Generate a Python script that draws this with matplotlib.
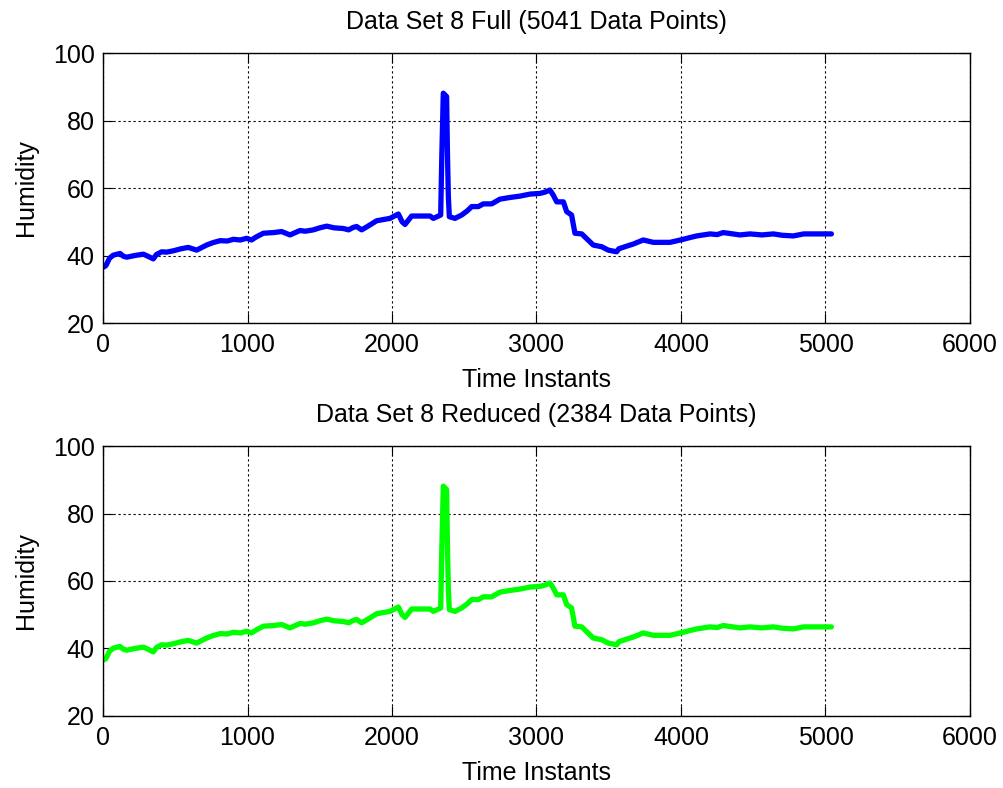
import matplotlib
matplotlib.use("Agg")
import matplotlib.pyplot as plt

plt.rcParams['font.family'] = ['Liberation Sans', 'DejaVu Sans']

# Humidity trace (time instant, humidity)
time_full = [0, 20, 45, 71, 118, 140, 164, 220, 250, 279, 300, 348, 370, 406, 440, 487,
             540, 590, 648, 717, 760, 810, 860, 902, 950, 994, 1028, 1060, 1110, 1180,
             1236, 1294, 1363, 1400, 1456, 1500, 1548, 1600, 1663, 1700, 1730, 1755,
             1790, 1830, 1894, 1986, 2044, 2070, 2090, 2136, 2194, 2263, 2286, 2337,
             2345, 2355, 2378, 2384, 2390, 2397, 2436, 2482, 2520, 2552, 2598, 2632,
             2690, 2747, 2817, 2886, 2955, 3024, 3060, 3093, 3116, 3140, 3186, 3209,
             3243, 3266, 3313, 3393, 3451, 3497, 3555, 3570, 3612, 3670, 3739, 3809,
             3924, 4016, 4060, 4109, 4201, 4250, 4293, 4408, 4478, 4560, 4639, 4700,
             4777, 4850, 5041]
humidity_full = [36.5, 37.0, 39.2, 40.1, 40.6, 39.8, 39.5, 40.0, 40.2, 40.4, 40.0, 39.0,
                 40.3, 41.1, 41.0, 41.4, 42.0, 42.4, 41.6, 43.1, 43.8, 44.4, 44.3, 44.8,
                 44.6, 45.1, 44.6, 45.5, 46.6, 46.8, 47.1, 46.1, 47.4, 47.2, 47.6, 48.2,
                 48.7, 48.2, 48.0, 47.6, 48.3, 48.6, 47.6, 48.6, 50.3, 51.0, 52.3, 50.0,
                 49.2, 51.7, 51.7, 51.7, 51.0, 52.0, 70.0, 88.1, 87.1, 70.0, 57.4, 51.5,
                 51.0, 52.0, 53.2, 54.5, 54.5, 55.3, 55.3, 56.7, 57.2, 57.6, 58.2, 58.4,
                 58.8, 59.4, 57.9, 55.9, 55.9, 53.0, 52.0, 46.6, 46.4, 43.1, 42.6, 41.6,
                 41.1, 42.0, 42.6, 43.4, 44.6, 43.9, 43.9, 44.8, 45.3, 45.8, 46.4, 46.2,
                 46.8, 46.1, 46.4, 46.1, 46.4, 46.0, 45.8, 46.4, 46.4]

# reduced set follows the same shape
time_reduced = list(time_full)
humidity_reduced = list(humidity_full)

titles = ['Data Set 8 Full (5041 Data Points)', 'Data Set 8 Reduced (2384 Data Points)']
colors = ['#0000ff', '#00ff00']
x_ticks = [0, 1000, 2000, 3000, 4000, 5000, 6000]
y_ticks = [20, 40, 60, 80, 100]

fig = plt.figure(figsize=(10.04, 7.88), dpi=100)
ax1 = fig.add_axes([0.1026, 0.5901, 0.8635, 0.3426])
ax2 = fig.add_axes([0.1026, 0.0914, 0.8635, 0.3426])

series = [(time_full, humidity_full), (time_reduced, humidity_reduced)]
for ax, (t, h), title, c in zip([ax1, ax2], series, titles, colors):
    ax.plot(t, h, color=c, linewidth=3.8, solid_joinstyle='round', solid_capstyle='round')
    ax.set_xlim(0, 6000)
    ax.set_ylim(20, 100)
    ax.set_xticks(x_ticks)
    ax.set_yticks(y_ticks)
    ax.grid(True, color='black', linestyle=(0, (2, 2.5)), linewidth=0.8)
    ax.tick_params(direction='in', length=7, width=0.8, top=True, right=True,
                   labelsize=18, pad=7)
    ax.tick_params(axis='y', pad=6)
    for s in ax.spines.values():
        s.set_linewidth(1.0)
    ax.set_title(title, fontsize=18, pad=17)
    ax.set_xlabel('Time Instants', fontsize=18, labelpad=8)
    ax.set_ylabel('Humidity', fontsize=18, labelpad=11)

fig.savefig('out.png', dpi=100)
